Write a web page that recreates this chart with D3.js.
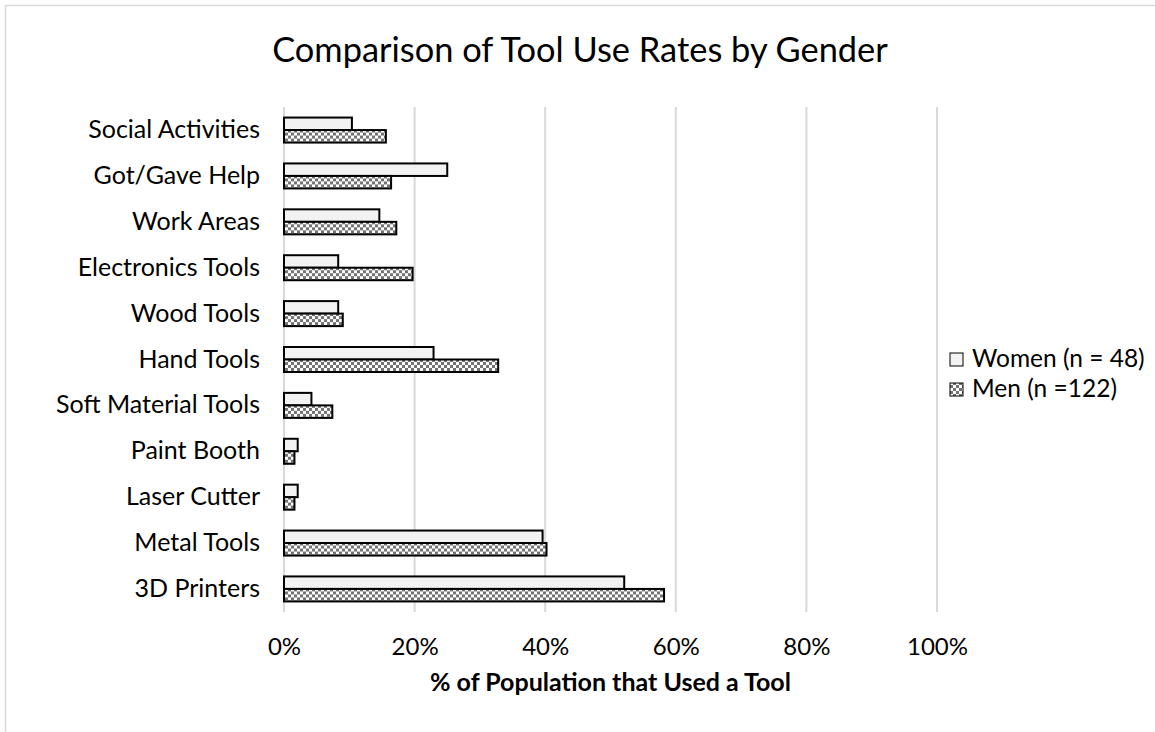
<!DOCTYPE html>
<html>
<head>
<meta charset="utf-8">
<script src="https://cdn.jsdelivr.net/npm/d3@7/dist/d3.min.js"></script>
<style>
  html, body { margin: 0; padding: 0; background: #fff; }
  svg { display: block; }
  text { font-family: Lato, "Open Sans", sans-serif; fill: #000; }
</style>
</head>
<body>
<svg id="chart" width="1155" height="732"></svg>
<script>
// Tool categories, top to bottom
const categories = [
  "Social Activities", "Got/Gave Help", "Work Areas", "Electronics Tools",
  "Wood Tools", "Hand Tools", "Soft Material Tools", "Paint Booth",
  "Laser Cutter", "Metal Tools", "3D Printers"
];

// Share of each group that used the tool (%)
const women = [10.4, 25.0, 14.6, 8.3, 8.3, 22.9, 4.2, 2.1, 2.1, 39.6, 52.1];
const men   = [15.6, 16.4, 17.2, 19.7, 9.0, 32.8, 7.4, 1.6, 1.6, 40.2, 58.2];

const seriesNames = ["Women (n = 48)", "Men (n =122)"];
const tickValues = [0, 20, 40, 60, 80, 100];

const svg = d3.select("#chart");
const W = 1155, H = 732;

// chart frame (light grey border)
svg.append("path")
  .attr("d", `M5.5,${H} V5.5 H${W}`)
  .attr("fill", "none")
  .attr("stroke", "#d9d9d9")
  .attr("stroke-width", 1.5);

// checkerboard fill for the men series
const defs = svg.append("defs");
const pat = defs.append("pattern")
  .attr("id", "checker")
  .attr("patternUnits", "userSpaceOnUse")
  .attr("width", 6).attr("height", 6);
pat.append("rect").attr("width", 6).attr("height", 6).attr("fill", "#ffffff");
pat.append("rect").attr("x", 0).attr("y", 0).attr("width", 3).attr("height", 3).attr("fill", "#737373");
pat.append("rect").attr("x", 3).attr("y", 3).attr("width", 3).attr("height", 3).attr("fill", "#737373");

const fills = ["#f2f2f2", "url(#checker)"];

const x = d3.scaleLinear().domain([0, 100]).range([284, 937]);
const y = d3.scaleBand().domain(categories).range([107, 612])
  .paddingInner(0.455).paddingOuter(0.23);
const ySub = d3.scaleBand().domain(d3.range(2)).range([0, y.bandwidth()]);

// vertical gridlines
svg.append("g").selectAll("line")
  .data(tickValues)
  .join("line")
  .attr("x1", d => x(d)).attr("x2", d => x(d))
  .attr("y1", 107).attr("y2", 612)
  .attr("stroke", "#d9d9d9")
  .attr("stroke-width", 2);

// bars
const rows = categories.map((c, i) => ({ c, vals: [women[i], men[i]] }));
const groups = svg.append("g").selectAll("g")
  .data(rows)
  .join("g")
  .attr("transform", d => `translate(0,${y(d.c)})`);

groups.selectAll("rect")
  .data(d => d.vals.map((v, k) => ({ v, k })))
  .join("rect")
  .attr("x", x(0))
  .attr("y", d => ySub(d.k))
  .attr("width", d => x(d.v) - x(0))
  .attr("height", ySub.bandwidth())
  .attr("fill", d => fills[d.k])
  .attr("stroke", "#000")
  .attr("stroke-width", 2);

// category axis labels
const yAxis = d3.axisLeft(y).tickSize(0).tickPadding(0);
const gy = svg.append("g").attr("transform", "translate(260,0)").call(yAxis);
gy.select(".domain").remove();
gy.selectAll("text")
  .attr("font-size", 25)
  .attr("font-family", "Lato, 'Open Sans', sans-serif")
  .attr("fill", "#000");

// value axis labels
const xAxis = d3.axisBottom(x).tickValues(tickValues).tickFormat(d => d + "%")
  .tickSize(0).tickPadding(0);
const gx = svg.append("g").attr("transform", "translate(0,638)").call(xAxis);
gx.select(".domain").remove();
gx.selectAll("text")
  .attr("font-size", 24)
  .attr("font-family", "Lato, 'Open Sans', sans-serif")
  .attr("fill", "#000");

// axis title
svg.append("text")
  .attr("x", x(50)).attr("y", 691)
  .attr("text-anchor", "middle")
  .attr("font-size", 25)
  .attr("font-weight", "bold")
  .text("% of Population that Used a Tool");

// chart title
svg.append("text")
  .attr("x", 580).attr("y", 62)
  .attr("text-anchor", "middle")
  .attr("font-size", 34.4)
  .text("Comparison of Tool Use Rates by Gender");

// legend
const legend = svg.append("g").selectAll("g")
  .data(seriesNames)
  .join("g")
  .attr("transform", (d, i) => `translate(950,${367 + i * 30})`);
legend.append("rect")
  .attr("x", 0).attr("y", -14)
  .attr("width", 13).attr("height", 13)
  .attr("fill", (d, i) => fills[i])
  .attr("stroke", "#000")
  .attr("stroke-width", 1);
legend.append("text")
  .attr("x", 22).attr("y", 0)
  .attr("font-size", 24.5)
  .text(d => d);
</script>
</body>
</html>
